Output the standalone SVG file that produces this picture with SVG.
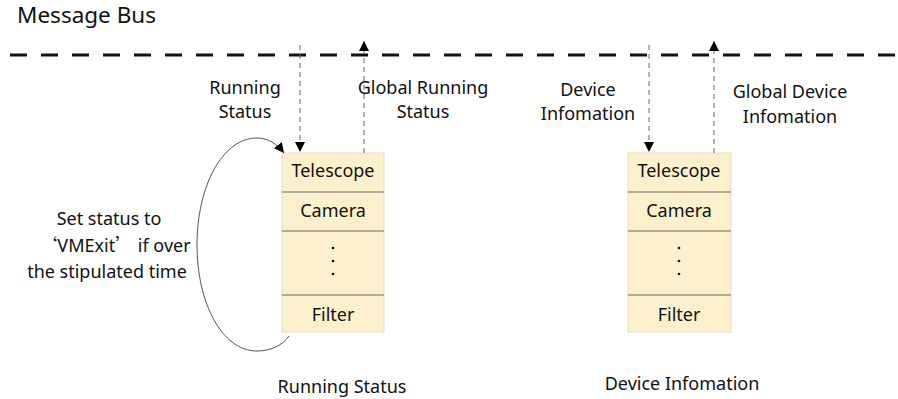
<svg xmlns="http://www.w3.org/2000/svg" width="898" height="399" viewBox="0 0 898 399">
<style>
text{font-family:"Noto Sans","Liberation Sans",sans-serif;font-size:18px;fill:#111;}
.c{text-anchor:middle;}
.q{font-family:"Noto Sans CJK SC","Noto Sans",sans-serif;}
.box{fill:#fdf0cc;stroke:#e6dcc0;stroke-width:1;}
.div{stroke:#9a9484;stroke-width:1.3;}
.vd{stroke:#666;stroke-width:1;stroke-dasharray:5 4;fill:none;}
.dot{fill:#111;}
</style>
<defs>
<marker id="ah" viewBox="0 0 10 10" refX="10" refY="5" markerWidth="10" markerHeight="10" markerUnits="userSpaceOnUse" orient="auto"><path d="M0,0 L10,5 L0,10 Z" fill="#000"/></marker>
</defs>
<rect width="898" height="399" fill="#fff"/>
<g id="bus">
<text x="17" y="23" style="font-size:22.5px">Message Bus</text>
<line x1="10" y1="55" x2="898" y2="55" stroke="#111" stroke-width="2.8" stroke-dasharray="17 14"/>
</g>
<g id="running-status">
<rect class="box" x="282" y="153" width="102" height="179"/>
<line class="div" x1="282" y1="192" x2="384" y2="192"/>
<line class="div" x1="282" y1="231" x2="384" y2="231"/>
<line class="div" x1="282" y1="295" x2="384" y2="295"/>
<text class="c" x="333" y="177">Telescope</text>
<text class="c" x="333" y="217">Camera</text>
<circle class="dot" cx="333" cy="248" r="1.3"/>
<circle class="dot" cx="333" cy="261" r="1.3"/>
<circle class="dot" cx="333" cy="274" r="1.3"/>
<text class="c" x="333" y="321">Filter</text>
<text class="c" x="342" y="393">Running Status</text>
</g>
<g id="device-info">
<rect class="box" x="628" y="153" width="103" height="179"/>
<line class="div" x1="628" y1="192" x2="731" y2="192"/>
<line class="div" x1="628" y1="231" x2="731" y2="231"/>
<line class="div" x1="628" y1="295" x2="731" y2="295"/>
<text class="c" x="679" y="177">Telescope</text>
<text class="c" x="679" y="217">Camera</text>
<circle class="dot" cx="679" cy="248" r="1.3"/>
<circle class="dot" cx="679" cy="261" r="1.3"/>
<circle class="dot" cx="679" cy="274" r="1.3"/>
<text class="c" x="679" y="321">Filter</text>
<text class="c" x="682" y="390">Device Infomation</text>
</g>
<g id="connectors">
<line class="vd" x1="300" y1="45" x2="300" y2="152" marker-end="url(#ah)"/>
<line class="vd" x1="364" y1="153" x2="364" y2="41" marker-end="url(#ah)"/>
<line class="vd" x1="649" y1="45" x2="649" y2="152" marker-end="url(#ah)"/>
<line class="vd" x1="714" y1="153" x2="714" y2="41" marker-end="url(#ah)"/>
<path d="M289 336 C282 346 270 351 257 351 C222 351 197 303 197 245 C197 187 222 138 257 138 C268 138 277 144 284 153" fill="none" stroke="#555" stroke-width="1" marker-end="url(#ah)"/>
</g>
<g id="labels">
<text class="c" x="245" y="94">Running</text>
<text class="c" x="245" y="118">Status</text>
<text class="c" x="423" y="94">Global Running</text>
<text class="c" x="423" y="118">Status</text>
<text class="c" x="588" y="96">Device</text>
<text class="c" x="588" y="120">Infomation</text>
<text class="c" x="790" y="98">Global Device</text>
<text class="c" x="790" y="123">Infomation</text>
<text class="c" x="109" y="225">Set status to</text>
<text class="c" x="115" y="252"><tspan class="q">‘</tspan>VMExit<tspan class="q">’</tspan>  if over</text>
<text class="c" x="107" y="278">the stipulated time</text>
</g>
</svg>
